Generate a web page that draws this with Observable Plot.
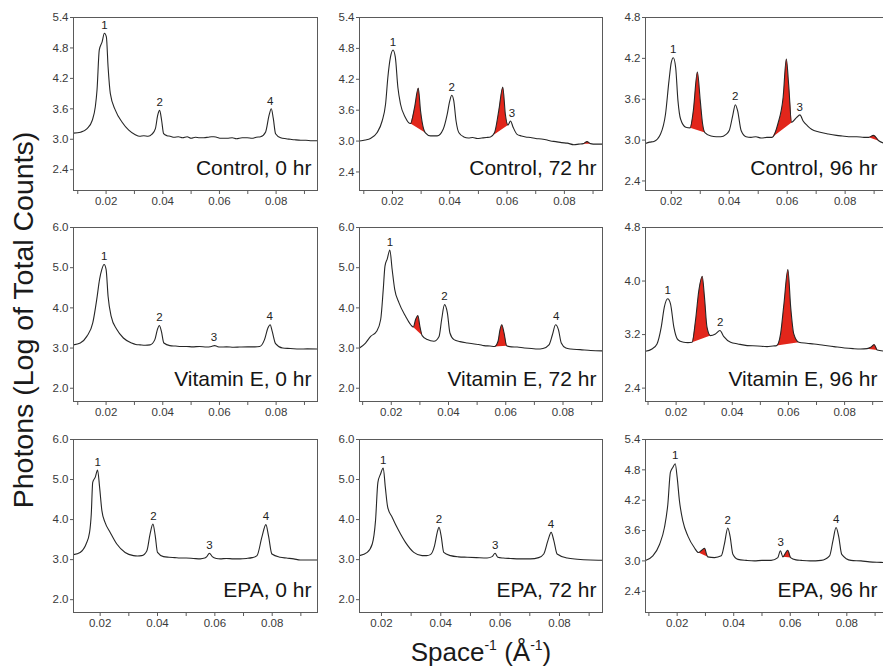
<!DOCTYPE html>
<html><head><meta charset="utf-8">
<script src="https://cdn.jsdelivr.net/npm/d3@7"></script>
<script src="https://cdn.jsdelivr.net/npm/@observablehq/plot@0.6"></script>
<style>
html,body{margin:0;padding:0;background:#fff;}
#wrap{position:relative;width:883px;height:667px;overflow:hidden;font-family:"Liberation Sans",Arial,Helvetica,sans-serif;}
#wrap svg{position:absolute;}
</style></head><body><div id="wrap"></div>
<script>
// ---------- data: [Space^-1 (Å^-1), log counts] ----------
const control0 = [[0.0085,3.12],[0.0110,3.14],[0.0133,3.21],[0.0151,3.37],[0.0162,3.64],[0.0168,3.97],[0.0176,4.76],[0.0186,4.92],[0.0194,5.09],[0.0201,5.02],[0.0207,4.43],[0.0215,3.90],[0.0233,3.57],[0.0256,3.34],[0.0280,3.18],[0.0303,3.09],[0.0318,3.06],[0.0333,3.07],[0.0348,3.06],[0.0362,3.10],[0.0374,3.21],[0.0382,3.47],[0.0389,3.57],[0.0396,3.37],[0.0403,3.11],[0.0415,3.07],[0.0426,3.06],[0.0440,3.04],[0.0455,3.05],[0.0470,3.03],[0.0486,3.05],[0.0500,3.02],[0.0515,3.04],[0.0530,3.03],[0.0545,3.03],[0.0560,3.04],[0.0572,3.05],[0.0580,3.05],[0.0590,3.04],[0.0605,3.02],[0.0627,3.02],[0.0645,3.03],[0.0660,3.01],[0.0680,3.03],[0.0698,3.03],[0.0715,3.02],[0.0730,3.04],[0.0745,3.05],[0.0763,3.145],[0.0775,3.47],[0.0783,3.60],[0.0790,3.41],[0.0798,3.11],[0.0816,3.03],[0.0835,3.01],[0.0850,3.00],[0.0865,2.99],[0.0887,2.98],[0.0905,2.98],[0.0925,2.97],[0.0946,2.97]];
const control72 = [[0.0085,3.00],[0.0105,3.02],[0.0123,3.05],[0.0146,3.16],[0.0164,3.39],[0.0176,3.72],[0.0184,4.24],[0.0193,4.63],[0.0202,4.77],[0.0210,4.63],[0.0219,4.04],[0.0228,3.72],[0.0245,3.46],[0.0263,3.34],[0.0277,3.65],[0.0290,4.03],[0.0298,3.59],[0.0309,3.23],[0.0315,3.16],[0.0333,3.10],[0.0356,3.10],[0.0377,3.23],[0.0391,3.52],[0.0400,3.78],[0.0407,3.89],[0.0414,3.78],[0.0422,3.39],[0.0432,3.16],[0.0449,3.08],[0.0465,3.06],[0.0480,3.07],[0.0496,3.05],[0.0512,3.06],[0.0528,3.07],[0.0542,3.08],[0.0556,3.16],[0.0571,3.59],[0.0585,4.05],[0.0594,3.52],[0.0603,3.31],[0.0612,3.39],[0.0621,3.27],[0.0635,3.13],[0.0650,3.10],[0.0665,3.08],[0.0682,3.07],[0.0700,3.05],[0.0720,3.04],[0.0740,3.02],[0.0752,3.00],[0.0770,2.99],[0.0790,2.97],[0.0810,2.96],[0.0833,2.93],[0.0850,2.94],[0.0866,2.95],[0.0879,2.99],[0.0891,2.95],[0.0910,2.94],[0.0933,2.94]];
const control96 = [[0.0111,2.95],[0.0125,2.97],[0.0140,2.98],[0.0163,3.09],[0.0180,3.38],[0.0192,3.87],[0.0200,4.14],[0.0207,4.21],[0.0215,4.07],[0.0223,3.58],[0.0232,3.31],[0.0250,3.19],[0.0265,3.18],[0.0276,3.43],[0.0290,4.00],[0.0300,3.58],[0.0308,3.24],[0.0316,3.11],[0.0337,3.06],[0.0355,3.05],[0.0371,3.05],[0.0388,3.08],[0.0400,3.14],[0.0412,3.36],[0.0421,3.52],[0.0429,3.43],[0.0441,3.14],[0.0458,3.05],[0.0475,3.04],[0.0492,3.05],[0.0510,3.03],[0.0530,3.04],[0.0548,3.04],[0.0568,3.24],[0.0586,3.63],[0.0597,4.19],[0.0605,3.82],[0.0615,3.26],[0.0632,3.33],[0.0644,3.37],[0.0655,3.28],[0.0670,3.21],[0.0684,3.16],[0.0710,3.12],[0.0742,3.09],[0.0770,3.07],[0.0790,3.06],[0.0812,3.05],[0.0840,3.05],[0.0865,3.04],[0.0881,3.04],[0.0898,3.07],[0.0916,2.99],[0.0939,2.95],[0.0960,2.94]];
const vitE0 = [[0.0085,3.08],[0.0109,3.125],[0.0132,3.29],[0.0153,3.625],[0.0167,4.21],[0.0177,4.71],[0.0185,4.96],[0.0193,5.08],[0.0200,4.96],[0.0207,4.29],[0.0218,3.79],[0.0238,3.46],[0.0261,3.25],[0.0290,3.125],[0.0305,3.09],[0.0320,3.08],[0.0338,3.07],[0.0355,3.08],[0.0372,3.21],[0.0381,3.46],[0.0388,3.56],[0.0395,3.42],[0.0404,3.125],[0.0425,3.06],[0.0445,3.05],[0.0465,3.04],[0.0484,3.04],[0.0505,3.03],[0.0530,3.04],[0.0554,3.025],[0.0572,3.04],[0.0583,3.06],[0.0592,3.04],[0.0601,3.025],[0.0625,3.03],[0.0650,3.02],[0.0671,3.025],[0.0700,3.03],[0.0725,3.03],[0.0742,3.04],[0.0759,3.21],[0.0771,3.50],[0.0779,3.58],[0.0786,3.42],[0.0798,3.11],[0.0823,3.00],[0.0850,2.99],[0.0882,2.975],[0.0910,2.98],[0.0946,2.975]];
const vitE72 = [[0.0089,3.00],[0.0110,3.125],[0.0128,3.29],[0.0149,3.42],[0.0163,3.71],[0.0172,4.46],[0.0178,5.04],[0.0186,5.22],[0.0195,5.44],[0.0203,4.96],[0.0212,4.46],[0.0227,4.125],[0.0250,3.79],[0.0268,3.58],[0.0277,3.525],[0.0285,3.71],[0.0293,3.81],[0.0300,3.54],[0.0308,3.31],[0.0326,3.21],[0.0349,3.17],[0.0367,3.29],[0.0376,3.71],[0.0386,4.08],[0.0396,3.875],[0.0405,3.375],[0.0419,3.21],[0.0440,3.16],[0.0466,3.125],[0.0490,3.10],[0.0505,3.09],[0.0524,3.06],[0.0545,3.05],[0.0561,3.04],[0.0573,3.17],[0.0580,3.46],[0.0586,3.58],[0.0594,3.375],[0.0603,3.06],[0.0620,3.03],[0.0640,3.025],[0.0665,3.00],[0.0690,2.99],[0.0710,2.975],[0.0730,2.99],[0.0751,3.08],[0.0763,3.33],[0.0774,3.58],[0.0784,3.46],[0.0794,3.125],[0.0810,3.00],[0.0827,2.975],[0.0860,2.96],[0.0897,2.94],[0.0938,2.93]];
const vitE96 = [[0.0091,2.95],[0.0114,2.985],[0.0132,3.06],[0.0147,3.31],[0.0158,3.61],[0.0170,3.735],[0.0180,3.66],[0.0192,3.31],[0.0204,3.135],[0.0215,3.10],[0.0227,3.085],[0.0242,3.08],[0.0257,3.085],[0.0269,3.41],[0.0281,3.86],[0.0293,4.07],[0.0301,3.76],[0.0310,3.31],[0.0322,3.185],[0.0340,3.21],[0.0356,3.26],[0.0370,3.17],[0.0394,3.085],[0.0420,3.06],[0.0453,3.035],[0.0490,3.03],[0.0524,3.02],[0.0545,3.03],[0.0558,3.035],[0.0572,3.21],[0.0584,3.66],[0.0598,4.17],[0.0608,3.61],[0.0619,3.21],[0.0637,3.085],[0.0665,3.07],[0.0691,3.06],[0.0725,3.04],[0.0762,3.02],[0.0800,3.00],[0.0830,2.99],[0.0857,2.985],[0.0880,2.99],[0.0893,3.01],[0.0905,3.05],[0.0916,2.97],[0.0946,2.95],[0.0967,2.94]];
const epa0 = [[0.0107,3.125],[0.0130,3.18],[0.0151,3.39],[0.0163,3.68],[0.0169,4.14],[0.0174,4.93],[0.0183,5.06],[0.0191,5.24],[0.0198,4.81],[0.0206,4.225],[0.0217,3.93],[0.0235,3.68],[0.0258,3.39],[0.0287,3.18],[0.0316,3.10],[0.0330,3.09],[0.0345,3.10],[0.0363,3.225],[0.0374,3.64],[0.0384,3.89],[0.0392,3.60],[0.0400,3.18],[0.0421,3.075],[0.0440,3.06],[0.0460,3.05],[0.0479,3.04],[0.0500,3.04],[0.0525,3.03],[0.0549,3.02],[0.0565,3.04],[0.0572,3.075],[0.0581,3.16],[0.0591,3.075],[0.0605,3.03],[0.0619,3.02],[0.0640,3.03],[0.0665,3.02],[0.0688,3.02],[0.0710,3.03],[0.0730,3.05],[0.0747,3.10],[0.0764,3.56],[0.0778,3.875],[0.0787,3.60],[0.0799,3.14],[0.0828,3.06],[0.0850,3.04],[0.0875,3.02],[0.0898,2.99],[0.0930,2.99],[0.0958,2.99]];
const epa72 = [[0.0126,3.10],[0.0152,3.18],[0.0169,3.39],[0.0180,3.975],[0.0188,4.93],[0.0197,5.14],[0.0206,5.29],[0.0213,4.81],[0.0221,4.31],[0.0236,4.06],[0.0258,3.725],[0.0281,3.43],[0.0309,3.18],[0.0337,3.10],[0.0352,3.10],[0.0365,3.125],[0.0379,3.35],[0.0388,3.68],[0.0394,3.81],[0.0401,3.60],[0.0410,3.18],[0.0433,3.10],[0.0460,3.07],[0.0489,3.06],[0.0520,3.05],[0.0556,3.04],[0.0573,3.075],[0.0583,3.16],[0.0592,3.06],[0.0610,3.04],[0.0635,3.03],[0.0665,3.02],[0.0702,3.02],[0.0730,3.05],[0.0747,3.14],[0.0761,3.475],[0.0772,3.68],[0.0781,3.475],[0.0792,3.14],[0.0826,3.04],[0.0860,3.01],[0.0904,2.99],[0.0945,2.985]];
const epa96 = [[0.0088,3.01],[0.0114,3.10],[0.0138,3.33],[0.0155,3.66],[0.0167,4.12],[0.0176,4.75],[0.0185,4.85],[0.0193,4.92],[0.0200,4.65],[0.0208,4.19],[0.0220,3.79],[0.0238,3.49],[0.0261,3.26],[0.0275,3.165],[0.0287,3.21],[0.0297,3.25],[0.0304,3.13],[0.0308,3.08],[0.0332,3.065],[0.0356,3.10],[0.0367,3.33],[0.0379,3.65],[0.0387,3.49],[0.0397,3.13],[0.0415,3.03],[0.0445,3.01],[0.0473,3.00],[0.0500,3.01],[0.0532,3.01],[0.0556,3.065],[0.0565,3.20],[0.0574,3.08],[0.0582,3.145],[0.0591,3.21],[0.0601,3.065],[0.0620,3.02],[0.0639,3.01],[0.0670,3.00],[0.0709,3.01],[0.0739,3.10],[0.0751,3.40],[0.0762,3.66],[0.0771,3.49],[0.0782,3.13],[0.0815,3.01],[0.0850,3.00],[0.0880,2.98],[0.0921,2.97],[0.0958,2.96]];

// red (new) peak ranges [from, to]
const control72Red = [[0.0263,0.0315],[0.0542,0.0603],[0.0866,0.0891]];
const control96Red = [[0.0265,0.0316],[0.0548,0.0615],[0.0881,0.0916]];
const vitE72Red = [[0.0268,0.0308],[0.0561,0.0603]];
const vitE96Red = [[0.0257,0.0322],[0.0558,0.0637],[0.0880,0.0916]];
const epa96Red = [[0.0275,0.0308],[0.0574,0.0601]];

// numbered peak labels
const control0Peaks = {n:[1,2,4], x:[0.0194,0.0389,0.0779], y:[5.09,3.57,3.60]};
const control72Peaks = {n:[1,2,3], x:[0.0202,0.0407,0.0617], y:[4.77,3.89,3.39]};
const control96Peaks = {n:[1,2,3], x:[0.0207,0.0421,0.0643], y:[4.21,3.52,3.37]};
const vitE0Peaks = {n:[1,2,3,4], x:[0.0193,0.0388,0.0581,0.0777], y:[5.08,3.56,3.07,3.58]};
const vitE72Peaks = {n:[1,2,4], x:[0.0195,0.0386,0.0776], y:[5.44,4.08,3.58]};
const vitE96Peaks = {n:[1,2], x:[0.0170,0.0357], y:[3.735,3.26]};
const epa0Peaks = {n:[1,2,3,4], x:[0.0191,0.0386,0.0581,0.0778], y:[5.24,3.89,3.16,3.875]};
const epa72Peaks = {n:[1,2,3,4], x:[0.0206,0.0394,0.0583,0.0771], y:[5.29,3.81,3.16,3.68]};
const epa96Peaks = {n:[1,2,3,4], x:[0.0193,0.0379,0.0566,0.0762], y:[4.92,3.65,3.20,3.66]};

const titles = ["Control, 0 hr","Control, 72 hr","Control, 96 hr","Vitamin E, 0 hr","Vitamin E, 72 hr","Vitamin E, 96 hr","EPA, 0 hr","EPA, 72 hr","EPA, 96 hr"];
const xDomains = [[0.0085,0.0946],[0.0085,0.0933],[0.0111,0.0960],[0.0085,0.0946],[0.0089,0.0938],[0.0091,0.0967],[0.0107,0.0958],[0.0126,0.0945],[0.0088,0.0958]];
const yDomains = [[1.99,5.4],[2.04,5.4],[2.26,4.8],[1.67,6.0],[1.67,6.0],[2.2,4.8],[1.68,6.0],[1.68,6.0],[1.98,5.4]];
const yTicks = [[2.4,3.0,3.6,4.2,4.8,5.4],[2.4,3.0,3.6,4.2,4.8,5.4],[2.4,3.0,3.6,4.2,4.8],[2,3,4,5,6],[2,3,4,5,6],[2.4,3.2,4.0,4.8],[2,3,4,5,6],[2,3,4,5,6],[2.4,3.0,3.6,4.2,4.8,5.4]];
const xTickVals = [0.01,0.02,0.03,0.04,0.05,0.06,0.07,0.08,0.09];
const xLabelVals = [0.02,0.04,0.06,0.08];

const series = [control0,control72,control96,vitE0,vitE72,vitE96,epa0,epa72,epa96];
const reds = [[],control72Red,control96Red,[],vitE72Red,vitE96Red,[],[],epa96Red];
const peaks = [control0Peaks,control72Peaks,control96Peaks,vitE0Peaks,vitE72Peaks,vitE96Peaks,epa0Peaks,epa72Peaks,epa96Peaks];

// ---------- layout ----------
const colLeft = [73,359,645], colW = [244,243,246];
const rowTop = [17,227,439], rowH = [173,174,173];
const titleDx = [-6,-6,-14];
const mL = 32, mR = 4, mT = 10, mB = 24;
const wrap = document.getElementById("wrap");

// axis titles overlay
const ns = "http://www.w3.org/2000/svg";
const ov = document.createElementNS(ns,"svg");
ov.setAttribute("width",883); ov.setAttribute("height",667);
ov.style.left="0px"; ov.style.top="0px";
ov.innerHTML = `<text transform="translate(33,320) rotate(-90)" text-anchor="middle" font-size="28.5" fill="#1a1a1a" font-family="Liberation Sans, Arial, sans-serif">Photons (Log of Total Counts)</text>
<text x="481" y="661" text-anchor="middle" font-size="26" fill="#1a1a1a" font-family="Liberation Sans, Arial, sans-serif">Space<tspan dy="-11" font-size="14">-1</tspan><tspan dy="11"> (Å</tspan><tspan dy="-11" font-size="14">-1</tspan><tspan dy="11">)</tspan></text>`;
wrap.appendChild(ov);

const near = (a,b) => Math.abs(a-b) < 1e-9;

series.forEach((data, i) => {
  const c = i % 3, r = Math.floor(i / 3);
  const xd = xDomains[i], yd = yDomains[i];
  const pts = data.map(([x,y]) => ({x,y}));
  const redSegs = reds[i].map(([a,b]) => pts.filter(p => p.x >= a - 1e-9 && p.x <= b + 1e-9));
  const pk = peaks[i];
  const labels = pk.n.map((n,j) => ({n: String(n), x: pk.x[j], y: pk.y[j]}));
  const xt = xTickVals.filter(v => v >= xd[0] && v <= xd[1]);
  const chart = Plot.plot({
    width: mL + colW[c] + mR,
    height: mT + rowH[r] + mB,
    marginLeft: mL, marginRight: mR, marginTop: mT, marginBottom: mB,
    x: {domain: xd},
    y: {domain: yd},
    style: {fontFamily: "Liberation Sans, Arial, Helvetica, sans-serif", background: "transparent", color: "#3a3a3a", overflow: "visible"},
    marks: [
      ...redSegs.map(seg => Plot.line(seg, {x: "x", y: "y", curve: "monotone-x", fill: "#e2261b", stroke: "none", clip: true})),
      Plot.line(pts, {x: "x", y: "y", curve: "monotone-x", stroke: "#262626", strokeWidth: 1.1, clip: true}),
      Plot.frame({stroke: "#5a5a5a", strokeWidth: 1}),
      Plot.axisX({ticks: xt, tickSize: 4, tickPadding: 2, fontSize: 11.5, stroke: "#5a5a5a", fill: "#3a3a3a",
                  tickFormat: d => xLabelVals.some(v => near(v,d)) ? d.toFixed(2) : "", label: null}),
      Plot.axisY({ticks: yTicks[i], tickSize: 3, tickPadding: 2, fontSize: 11.5, stroke: "#5a5a5a", fill: "#3a3a3a",
                  tickFormat: d => d.toFixed(1), label: null}),
      Plot.text(labels, {x: "x", y: "y", text: "n", dy: -8, fontSize: 11.5, fill: "#222"}),
      Plot.text([titles[i]], {frameAnchor: "bottom-right", text: d => d, textAnchor: "end", dx: titleDx[c], dy: -16, fontSize: 21, fill: "#151515"})
    ]
  });
  chart.style.left = (colLeft[c] - mL) + "px";
  chart.style.top = (rowTop[r] - mT) + "px";
  wrap.appendChild(chart);
});
</script>
</body></html>
